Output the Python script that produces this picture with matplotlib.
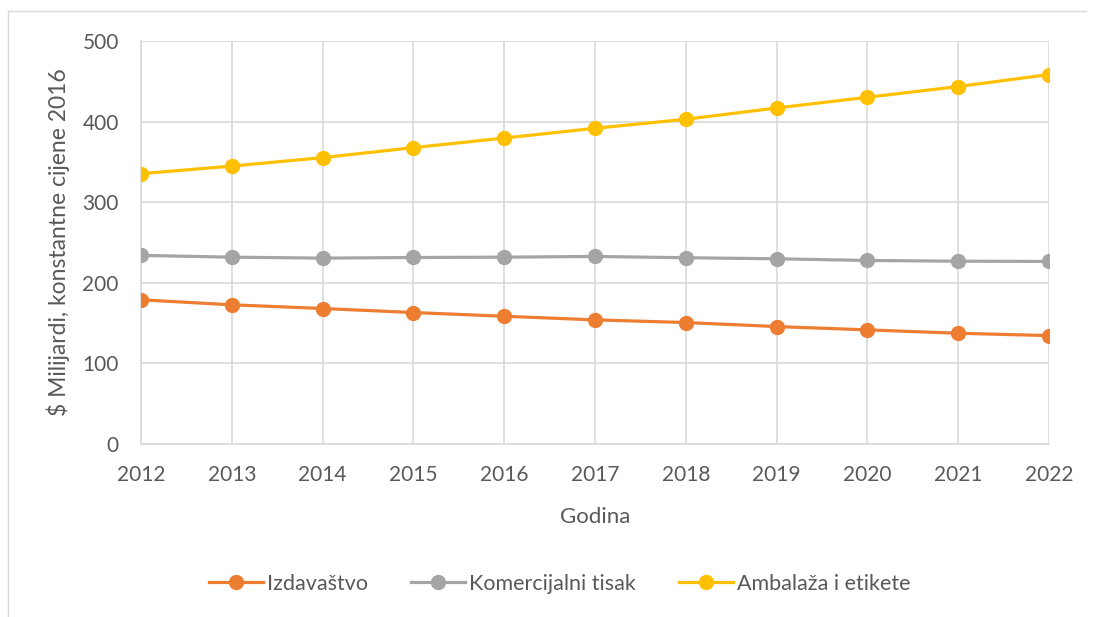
import matplotlib.pyplot as plt
from matplotlib.lines import Line2D

# data
years = [2012, 2013, 2014, 2015, 2016, 2017, 2018, 2019, 2020, 2021, 2022]
izdavastvo = [178.9, 172.7, 168.1, 163.1, 158.5, 154.0, 150.7, 145.7, 141.6, 137.4, 134.5]
komercijalni = [234.0, 231.8, 230.6, 231.4, 231.8, 232.7, 231.1, 229.8, 227.7, 226.8, 226.5]
ambalaza = [335.4, 344.8, 355.3, 367.7, 379.6, 391.7, 402.9, 416.9, 430.2, 443.5, 458.4]
series_names = ['Izdavaštvo', 'Komercijalni tisak', 'Ambalaža i etikete']
colors = ['#ED7D31', '#A5A5A5', '#FFC000']
y_ticks = [0, 100, 200, 300, 400, 500]

plt.rcParams['font.family'] = ['Lato', 'DejaVu Sans']
txt = '#595959'

fig = plt.figure(figsize=(10.94, 6.17), dpi=100)
ax = fig.add_axes([141 / 1094, 1 - 444 / 617, (1049 - 141) / 1094, (444 - 41) / 617])

# chart area border (top and left visible in the reference)
fig.add_artist(Line2D([8 / 1094, 8 / 1094], [0, 1 - 11 / 617], transform=fig.transFigure,
                      color='#D9D9D9', lw=1))
fig.add_artist(Line2D([8 / 1094, 1086 / 1094], [1 - 11 / 617, 1 - 11 / 617], transform=fig.transFigure,
                      color='#D9D9D9', lw=1))

for vals, name, c in zip([izdavastvo, komercijalni, ambalaza], series_names, colors):
    ax.plot(years, vals, color=c, lw=2.3, marker='o', markersize=10, label=name, zorder=3)

ax.set_xlim(years[0], years[-1])
ax.set_ylim(0, 500)
ax.set_xticks(years)
ax.set_yticks(y_ticks)
ax.grid(True, color='#D9D9D9', lw=1.2)
ax.set_axisbelow(True)
for s in ['top', 'right']:
    ax.spines[s].set_visible(False)
for s in ['left', 'bottom']:
    ax.spines[s].set_color('#D9D9D9')
    ax.spines[s].set_linewidth(1.2)
ax.tick_params(length=0, labelsize=15, colors=txt)
ax.tick_params(axis='y', pad=16)
ax.tick_params(axis='x', pad=15)

ax.set_xlabel('Godina', fontsize=16, color=txt, labelpad=16)
ax.set_ylabel('$ Milijardi, konstantne cijene 2016', fontsize=16.5, color=txt, labelpad=9)

leg = fig.legend(loc='center', bbox_to_anchor=(560 / 1094, 1 - 584 / 617), ncol=3, frameon=False,
                 fontsize=15.5, handlelength=2.5, columnspacing=2.0, handletextpad=0.2)
for t in leg.get_texts():
    t.set_color(txt)

plt.savefig('out.png', dpi=100)
